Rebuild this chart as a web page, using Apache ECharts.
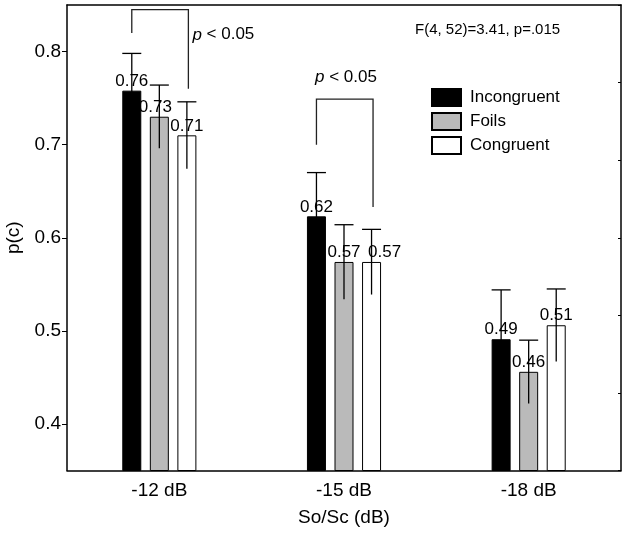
<!DOCTYPE html>
<html>
<head>
<meta charset="utf-8">
<script src="https://cdn.jsdelivr.net/npm/echarts@6/dist/echarts.min.js"></script>
<style>
html,body{margin:0;padding:0;background:#fff;}
#chart{width:627px;height:536px;}
</style>
</head>
<body>
<div id="chart"></div>
<script>
// ---- data ----
const categories = ['-12 dB', '-15 dB', '-18 dB'];
const seriesNames = ['Incongruent', 'Foils', 'Congruent'];
const incongruent = [0.758, 0.623, 0.491];
const incongruentErr = [0.040, 0.047, 0.053];
const foils = [0.730, 0.574, 0.456];
const foilsErr = [0.034, 0.040, 0.034];
const congruent = [0.710, 0.574, 0.506];
const congruentErr = [0.036, 0.035, 0.039];
const yTicks = [0.4, 0.5, 0.6, 0.7, 0.8];
// significance brackets (category, left low end, top, right low end, label y)
const bracketCats = [0, 1];
const bracketLeftLow = [0.820, 0.700];
const bracketTop = [0.845, 0.749];
const bracketRightLow = [0.760, 0.633];
const bracketLabelY = [0.818, 0.772];
const statText = 'F(4, 52)=3.41, p=.015';

// ---- styling ----
const FONT = '"Liberation Sans", Arial, Helvetica, sans-serif';
const BAR_W = 19;
const BAR_GAP = 0.45;
const STEP = BAR_W * (1 + BAR_GAP);
const fills = ['#000000', '#bababa', '#ffffff'];
const values = [incongruent, foils, congruent];
const errs = [incongruentErr, foilsErr, congruentErr];
// small horizontal nudges of value labels (style only)
const labelNudge = {'1-0': -4, '2-1': 13};

const chart = echarts.init(document.getElementById('chart'), null, {renderer: 'canvas'});

const barSeries = seriesNames.map((name, s) => ({
  name: name,
  type: 'bar',
  xAxisIndex: 0,
  yAxisIndex: 0,
  barWidth: BAR_W,
  barGap: (BAR_GAP * 100) + '%',
  data: values[s].map((v, i) => {
    const n = labelNudge[s + '-' + i];
    return n ? {value: v, label: {offset: [n, 0]}} : v;
  }),
  itemStyle: {color: fills[s], borderColor: '#000', borderWidth: 1},
  label: {
    show: true, position: 'top', distance: 1,
    formatter: p => p.value.toFixed(2),
    color: '#000', fontSize: 17, fontFamily: FONT
  },
  z: 2
}));

const errSeries = seriesNames.map((name, s) => ({
  type: 'custom',
  xAxisIndex: 0,
  yAxisIndex: 0,
  z: 4,
  silent: true,
  data: values[s].map((v, i) => [i, v, errs[s][i]]),
  encode: {x: 0, y: 1},
  renderItem: function (params, api) {
    const c = api.value(0), v = api.value(1), e = api.value(2);
    const xc = api.coord([c, v])[0] + (s - 1) * STEP;
    const yHi = api.coord([c, v + e])[1];
    const yLo = api.coord([c, v - e])[1];
    const hw = BAR_W / 2;
    return {
      type: 'group',
      children: [
        {type: 'line', shape: {x1: xc, y1: yLo, x2: xc, y2: yHi}, style: {stroke: '#000', lineWidth: 1.3}},
        {type: 'line', shape: {x1: xc - hw, y1: yHi, x2: xc + hw, y2: yHi}, style: {stroke: '#000', lineWidth: 1.3}}
      ]
    };
  }
}));

const pText = (x, y, align) => ({
  type: 'text', x: x, y: y,
  style: {
    text: '{i|p} < 0.05', fill: '#000', fontSize: 17, fontFamily: FONT,
    align: align, verticalAlign: 'middle',
    rich: {i: {fontStyle: 'italic', fontSize: 17, fontFamily: FONT}}
  }
});

const bracketSeries = {
  type: 'custom',
  xAxisIndex: 0,
  yAxisIndex: 0,
  z: 5,
  silent: true,
  clip: false,
  data: bracketCats.map((c, i) => [c, bracketLeftLow[i], bracketTop[i], bracketRightLow[i], bracketLabelY[i], i]),
  encode: {x: 0, y: 2},
  renderItem: function (params, api) {
    const c = api.value(0);
    const xc = api.coord([c, 0.5])[0];
    const x0 = xc - STEP;
    const x1 = xc + STEP + 1.5;
    const yL = api.coord([c, api.value(1)])[1];
    const yT = api.coord([c, api.value(2)])[1];
    const yR = api.coord([c, api.value(3)])[1];
    const yTxt = api.coord([c, api.value(4)])[1];
    const idx = api.value(5);
    const txt = idx === 0 ? pText(x1 + 4, yTxt, 'left') : pText(xc + 2, yTxt, 'center');
    return {
      type: 'group',
      children: [
        {type: 'polyline', shape: {points: [[x0, yL], [x0, yT], [x1, yT], [x1, yR]]}, style: {stroke: '#222', lineWidth: 1.3, fill: null}},
        txt
      ]
    };
  }
};

const option = {
  animation: false,
  backgroundColor: '#fff',
  textStyle: {fontFamily: FONT},
  title: {
    text: statText, left: 415, top: 22, padding: 0,
    textStyle: {fontSize: 15, fontWeight: 'normal', color: '#000', fontFamily: FONT}
  },
  legend: {
    data: seriesNames.map(n => ({name: n, icon: 'rect'})),
    orient: 'vertical', left: 431, top: 88, padding: 0,
    itemWidth: 29, itemHeight: 17, itemGap: 5,
    selectedMode: false,
    textStyle: {fontSize: 17, color: '#000', fontFamily: FONT, padding: [0, 0, 0, 4]}
  },
  grid: {left: 67, right: 6, top: 5, bottom: 65.5, containLabel: false, outerBoundsMode: 'none'},
  xAxis: [
    {
      type: 'category', data: categories, position: 'bottom',
      name: 'So/Sc (dB)', nameLocation: 'middle', nameGap: 38,
      nameTextStyle: {fontSize: 19, color: '#000', fontFamily: FONT},
      axisLine: {lineStyle: {color: '#000', width: 1.5}},
      axisTick: {inside: true, length: 3, alignWithLabel: true, lineStyle: {color: '#000'}},
      axisLabel: {fontSize: 19, color: '#000', margin: 11, fontFamily: FONT}
    },
    {
      type: 'category', data: categories, position: 'top',
      axisLine: {lineStyle: {color: '#000', width: 1.5}},
      axisTick: {inside: true, length: 3, alignWithLabel: true, lineStyle: {color: '#000'}},
      axisLabel: {show: false}
    }
  ],
  yAxis: [
    {
      type: 'value', min: 0.35, max: 0.85, position: 'left',
      name: 'p(c)', nameLocation: 'middle', nameGap: 43, nameRotate: 90,
      nameTextStyle: {fontSize: 19, color: '#000', fontFamily: FONT},
      axisLine: {show: true, lineStyle: {color: '#000', width: 1.5}},
      axisTick: {show: true, inside: false, length: 5, customValues: yTicks, lineStyle: {color: '#000'}},
      axisLabel: {fontSize: 19, color: '#000', margin: 6, customValues: yTicks, formatter: v => v.toFixed(1), fontFamily: FONT},
      splitLine: {show: false}
    },
    {
      type: 'value', min: 0, max: 6, interval: 1, position: 'right',
      axisLine: {show: true, lineStyle: {color: '#000', width: 1.5}},
      axisTick: {show: true, inside: true, length: 3, lineStyle: {color: '#000'}},
      axisLabel: {show: false},
      splitLine: {show: false}
    }
  ],
  series: [...barSeries, ...errSeries, bracketSeries]
};

chart.setOption(option);
</script>
</body>
</html>
